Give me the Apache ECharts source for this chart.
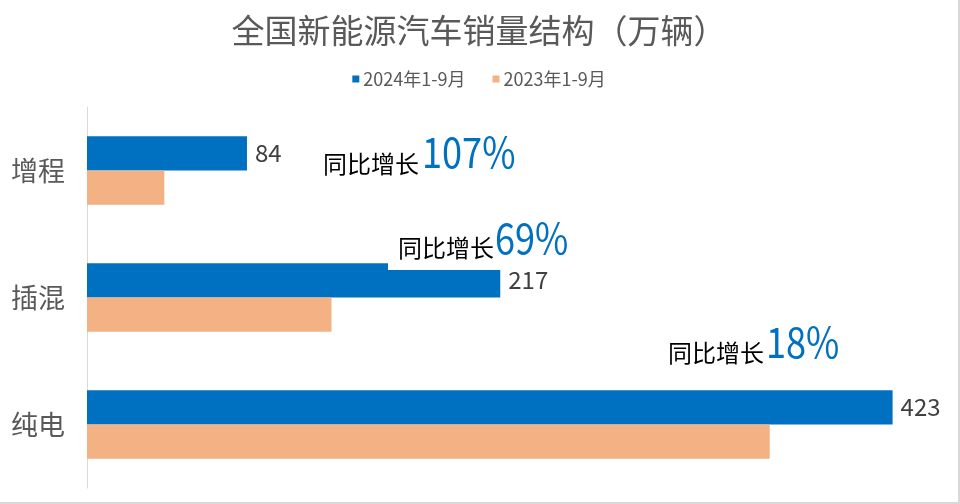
<!DOCTYPE html>
<html><head><meta charset="utf-8">
<script src="https://cdn.jsdelivr.net/npm/echarts@6/dist/echarts.min.js"></script>
<style>html,body{margin:0;padding:0;background:#fff}#c{width:960px;height:504px;box-sizing:border-box;border-right:2px solid #d9d9d9;border-bottom:2px solid #d9d9d9}</style>
</head><body><div id="c"></div>
<script>
const categories = ['增程', '插混', '纯电'];
const sales2024 = [84, 217, 423];
const sales2023 = [40.6, 128.4, 358.5];
const seriesNames = ['2024年1-9月', '2023年1-9月'];
const growthLabels = ['107%', '69%', '18%'];
const growthPrefix = '同比增长';

const FONT = '"Noto Sans CJK SC", "Noto Sans", sans-serif';
const chart = echarts.init(document.getElementById('c'), null, {renderer: 'canvas'});
const option = {
  backgroundColor: '#fff',
  textStyle: {fontFamily: FONT},
  title: {
    text: '全国新能源汽车销量结构（万辆）', left: 'center', top: 9,
    textStyle: {fontFamily: FONT, fontSize: 33, fontWeight: 'normal', color: '#595959'}
  },
  legend: {
    top: 65, left: 'center', itemWidth: 7, itemHeight: 7, itemGap: 27,
    icon: 'rect',
    textStyle: {fontFamily: FONT, fontSize: 18, color: '#595959', padding: [0, 0, 0, -1]},
    data: seriesNames
  },
  grid: {left: 87, right: 14, top: 107, bottom: 14},
  xAxis: {type: 'value', min: 0, max: 450, show: false},
  yAxis: {
    type: 'category', data: categories, inverse: true,
    axisLine: {show: true, lineStyle: {color: '#d9d9d9', width: 1}},
    axisTick: {show: false},
    axisLabel: {fontFamily: FONT, fontSize: 27, color: '#595959', margin: 22}
  },
  series: [
    {
      name: seriesNames[0], type: 'bar', data: sales2024, barGap: '0%', barCategoryGap: '46%',
      itemStyle: {color: '#0070C0'},
      label: {show: true, position: 'right', distance: 8, fontFamily: FONT, fontSize: 24, color: '#404040'}
    },
    {
      name: seriesNames[1], type: 'bar', data: sales2023, barGap: '0%', barCategoryGap: '46%',
      itemStyle: {color: '#F4B183'}
    }
  ]
};
chart.setOption(option);

// annotation placement: [label left, label centre y, percent left, percent centre y]
const annPos = [[323, 164, 422, 152], [398, 248, 495, 238], [668, 353, 766, 342]];
const graphics = [
  {type: 'rect', z: 50, shape: {x: 388, y: 218, width: 190, height: 52}, style: {fill: '#fff'}}
];
growthLabels.forEach((g, i) => {
  const p = annPos[i];
  graphics.push({
    type: 'text', x: p[0], y: p[1], z: 100,
    style: {text: growthPrefix, fontFamily: FONT, fontSize: 24, fill: '#000', verticalAlign: 'middle', align: 'left'}
  });
  graphics.push({
    type: 'text', x: p[2], y: p[3], z: 100, scaleX: 0.86,
    style: {text: g, fontFamily: FONT, fontSize: 42, fill: '#0070C0', verticalAlign: 'middle', align: 'left'}
  });
});
chart.setOption({graphic: graphics});
</script></body></html>
